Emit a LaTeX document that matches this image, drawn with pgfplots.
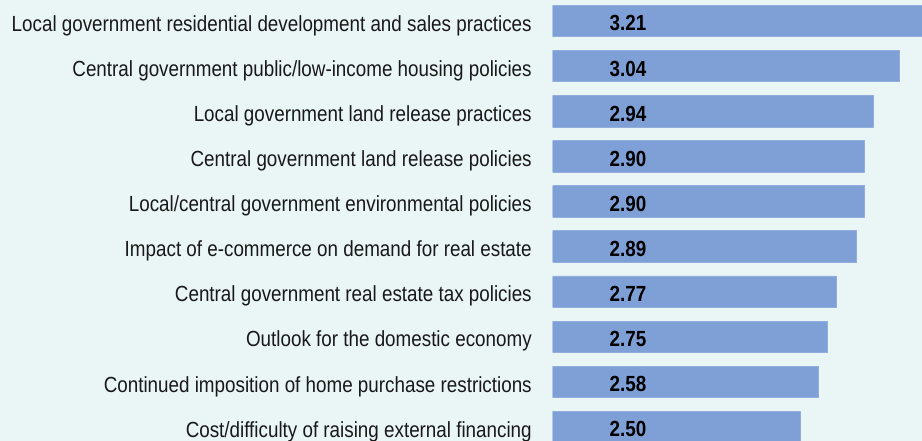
\documentclass[border=0pt]{standalone}
\usepackage{pgfplots}
\pgfplotsset{compat=1.18}
\usepackage{fontspec}
\setmainfont{Liberation Sans}[FakeStretch=0.86]
\definecolor{bg}{RGB}{234,246,246}
\definecolor{barblue}{RGB}{127,160,214}
\definecolor{txt}{RGB}{25,25,25}
\begin{document}
\pagecolor{bg}
\begin{tikzpicture}
\begin{axis}[
  name=ax,
  scale only axis,
  width=185.65pt, height=221.5pt,
  xmin=0, xmax=371.3,
  ymin=-0.47, ymax=9.31,
  y dir=reverse,
  axis line style={draw=none},
  major tick length=0pt,
  xtick=\empty,
  ytick={0,...,9},
  yticklabels={
    Local government residential development and sales practices,
    Central government public/low-income housing policies,
    Local government land release practices,
    Central government land release policies,
    Local/central government environmental policies,
    Impact of e-commerce on demand for real estate,
    Central government real estate tax policies,
    Outlook for the domestic economy,
    Continued imposition of home purchase restrictions,
    Cost/difficulty of raising external financing},
  yticklabel style={font=\fontsize{11}{13}\selectfont, text=txt, inner sep=0pt,
    anchor=base east, xshift=-10.3pt, yshift=-5.2pt},
]
% bar lengths as drawn (label values differ from drawn lengths in the original)
\addplot[xbar, bar width=15.7pt, fill=barblue, draw=barblue!85!white] coordinates {
  (380,0) (349,1) (322.3,2) (313,3) (313,4)
  (305,5) (285,6) (276.3,7) (267,8) (249,9)};
% printed values
\addplot[draw=none, mark=none, nodes near coords, point meta=explicit symbolic,
  every node near coord/.style={anchor=base west, inner sep=0pt, text=black,
    yshift=-4.9pt, font=\fontsize{11}{13}\selectfont\bfseries}] coordinates {
  (57,0) [3.21] (57,1) [3.04] (57,2) [2.94] (57,3) [2.90] (57,4) [2.90]
  (57,5) [2.89] (57,6) [2.77] (57,7) [2.75] (57,8) [2.58] (57,9) [2.50]};
\end{axis}
\pgfresetboundingbox
\path[use as bounding box] (ax.south east) rectangle ([xshift=-461pt]ax.north east);
\end{tikzpicture}
\end{document}
